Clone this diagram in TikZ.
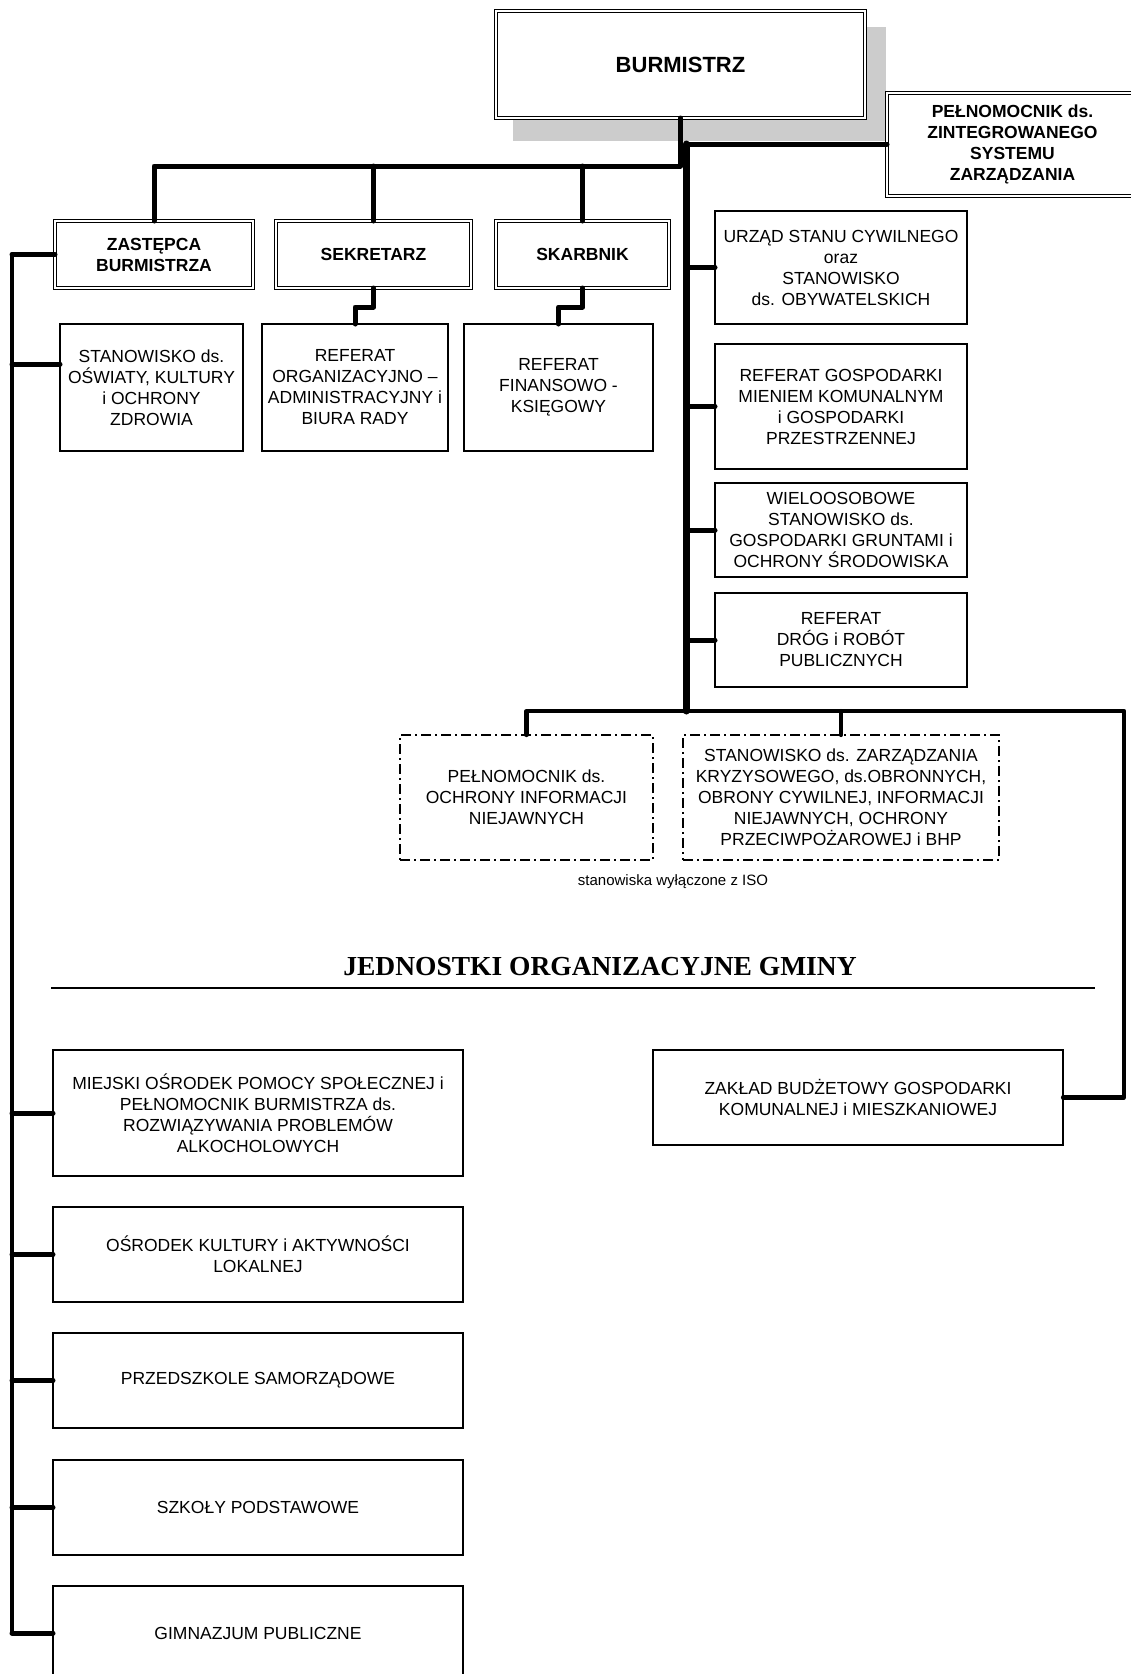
\documentclass[tikz,border=0pt]{standalone}
\usepackage{fontspec}
\setmainfont{Liberation Sans}
\newfontfamily\titlefont{Liberation Serif}
\newcommand\orgbox[7]{\node[#2, minimum width={#5-#3}, minimum height={#6-#4}] (#1) at ({(#3+#5)/2},{(#4+#6)/2}) {#7};}
\begin{document}
\begin{tikzpicture}[x=1pt,y=-1pt,
  every node/.style={font=\fontsize{17.5}{21}\selectfont, align=center, inner sep=0pt, outer sep=0pt},
  plainbox/.style={draw=black, line width=1.2pt, fill=white},
  dblbox/.style={draw=black, double=white, double distance=2.4pt, line width=0.9pt, fill=white},
  dashbox/.style={draw=black, line width=1.1pt, dash pattern=on 10pt off 4pt on 2pt off 4pt},
  head/.style={font=\bfseries\fontsize{17.5}{21}\selectfont},
  conn/.style={draw=black, line width=5pt, line cap=round, line join=round},
  connthin/.style={draw=black, line width=4.2pt, line cap=round, line join=round},
  trunk/.style={draw=black, line width=7pt, line cap=round}]
\useasboundingbox (0,0) rectangle (1131,1674);
\fill[white] (0,0) rectangle (1131,1674);
\clip (0,0) rectangle (1131,1674);
% shadow of BURMISTRZ
\fill[black!20] (513,27) rectangle (886,141);
% top level
\orgbox{burm}{dblbox,font=\bfseries\fontsize{22}{26}\selectfont}{496}{11}{865}{118}{BURMISTRZ}
\orgbox{iso}{dblbox,head}{887}{93}{1138}{196}{PEŁNOMOCNIK ds.\\ZINTEGROWANEGO\\SYSTEMU\\ZARZĄDZANIA}
\orgbox{zast}{dblbox,head}{55}{221}{253}{288}{ZASTĘPCA\\BURMISTRZA}
\orgbox{sek}{dblbox,head}{276}{221}{471}{288}{SEKRETARZ}
\orgbox{skb}{dblbox,head}{496}{221}{669}{288}{SKARBNIK}
% second row
\orgbox{osw}{plainbox}{60}{324}{243}{451}{STANOWISKO ds.\\OŚWIATY, KULTURY\\i OCHRONY\\ZDROWIA}
\orgbox{rorg}{plainbox}{262}{324}{448}{451}{REFERAT\\ORGANIZACYJNO –\\ADMINISTRACYJNY i\\BIURA RADY}
\orgbox{rfin}{plainbox}{464}{324}{653}{451}{REFERAT\\FINANSOWO -\\KSIĘGOWY}
% right column
\orgbox{usc}{plainbox}{715}{211}{967}{324}{URZĄD STANU CYWILNEGO\\oraz\\STANOWISKO\\ds. OBYWATELSKICH}
\orgbox{rgm}{plainbox}{715}{344}{967}{469}{REFERAT GOSPODARKI\\MIENIEM KOMUNALNYM\\i GOSPODARKI\\PRZESTRZENNEJ}
\orgbox{wiel}{plainbox}{715}{483}{967}{577}{WIELOOSOBOWE\\STANOWISKO ds.\\GOSPODARKI GRUNTAMI i\\OCHRONY ŚRODOWISKA}
\orgbox{rdr}{plainbox}{715}{593}{967}{687}{REFERAT\\DRÓG i ROBÓT\\PUBLICZNYCH}
% excluded posts
\orgbox{d1}{dashbox}{400}{735}{653}{860}{PEŁNOMOCNIK ds.\\OCHRONY INFORMACJI\\NIEJAWNYCH}
\orgbox{d2}{dashbox}{683}{735}{999}{860}{STANOWISKO ds. ZARZĄDZANIA\\KRYZYSOWEGO, ds.OBRONNYCH,\\OBRONY CYWILNEJ, INFORMACJI\\NIEJAWNYCH, OCHRONY\\PRZECIWPOŻAROWEJ i BHP}
\node[font=\fontsize{15}{18}\selectfont] (note) at (673,882) {stanowiska wyłączone z ISO};
% title
\node[font=\titlefont\bfseries\fontsize{27.5}{32}\selectfont, anchor=base] (title) at (600,975) {JEDNOSTKI ORGANIZACYJNE GMINY};
\draw[line width=2.4pt] (51,988) -- (1095,988);
% units
\orgbox{mops}{plainbox}{53}{1050}{463}{1176}{MIEJSKI OŚRODEK POMOCY SPOŁECZNEJ i\\PEŁNOMOCNIK BURMISTRZA ds.\\ROZWIĄZYWANIA PROBLEMÓW\\ALKOCHOLOWYCH}
\orgbox{okul}{plainbox}{53}{1207}{463}{1302}{OŚRODEK KULTURY i AKTYWNOŚCI\\LOKALNEJ}
\orgbox{przed}{plainbox}{53}{1333}{463}{1428}{PRZEDSZKOLE SAMORZĄDOWE}
\orgbox{szk}{plainbox}{53}{1460}{463}{1555}{SZKOŁY PODSTAWOWE}
\orgbox{gim}{plainbox}{53}{1586}{463}{1680}{GIMNAZJUM PUBLICZNE}
\orgbox{zak}{plainbox}{653}{1050}{1063}{1145}{ZAKŁAD BUDŻETOWY GOSPODARKI\\KOMUNALNEJ i MIESZKANIOWEJ}
% connectors: top
\coordinate (jtop) at (680,166);
\draw[conn] (burm.south) -- (burm.south |- jtop) -| (zast.north);
\draw[conn] (sek.north) -- (sek.north |- jtop);
\draw[conn] (skb.north) -- (skb.north |- jtop);
\draw[conn] (sek.south) -- ++(0,19) -| (rorg.north);
\draw[conn] (skb.south) -- ++(0,19) -| (rfin.north);
% main trunk
\coordinate (ttop) at (686,144);
\coordinate (tbot) at (686,711);
\draw[trunk] (ttop) -- (tbot);
\draw[conn] (ttop) -- (ttop -| iso.west);
\foreach \n in {usc,rgm,wiel,rdr} \draw[conn] (\n.west -| ttop) -- (\n.west);
% bottom branch
\coordinate (rc) at (1124,711);
\draw[connthin] (d1.north) -- (d1.north |- tbot) -- (rc) |- (zak.east);
\draw[connthin] (d2.north) -- (d2.north |- tbot);
% left trunk
\coordinate (ltop) at (12,254);
\coordinate (lbot) at (12,1633);
\draw[connthin] (zast.west -| ltop) -- (lbot);
\draw[conn] (zast.west -| ltop) -- (zast.west);
\draw[conn] ([yshift=23.5pt]osw.west -| ltop) -- ([yshift=23.5pt]osw.west);
\foreach \n in {mops,okul,przed,szk,gim} \draw[conn] (\n.west -| ltop) -- (\n.west);
\end{tikzpicture}
\end{document}
